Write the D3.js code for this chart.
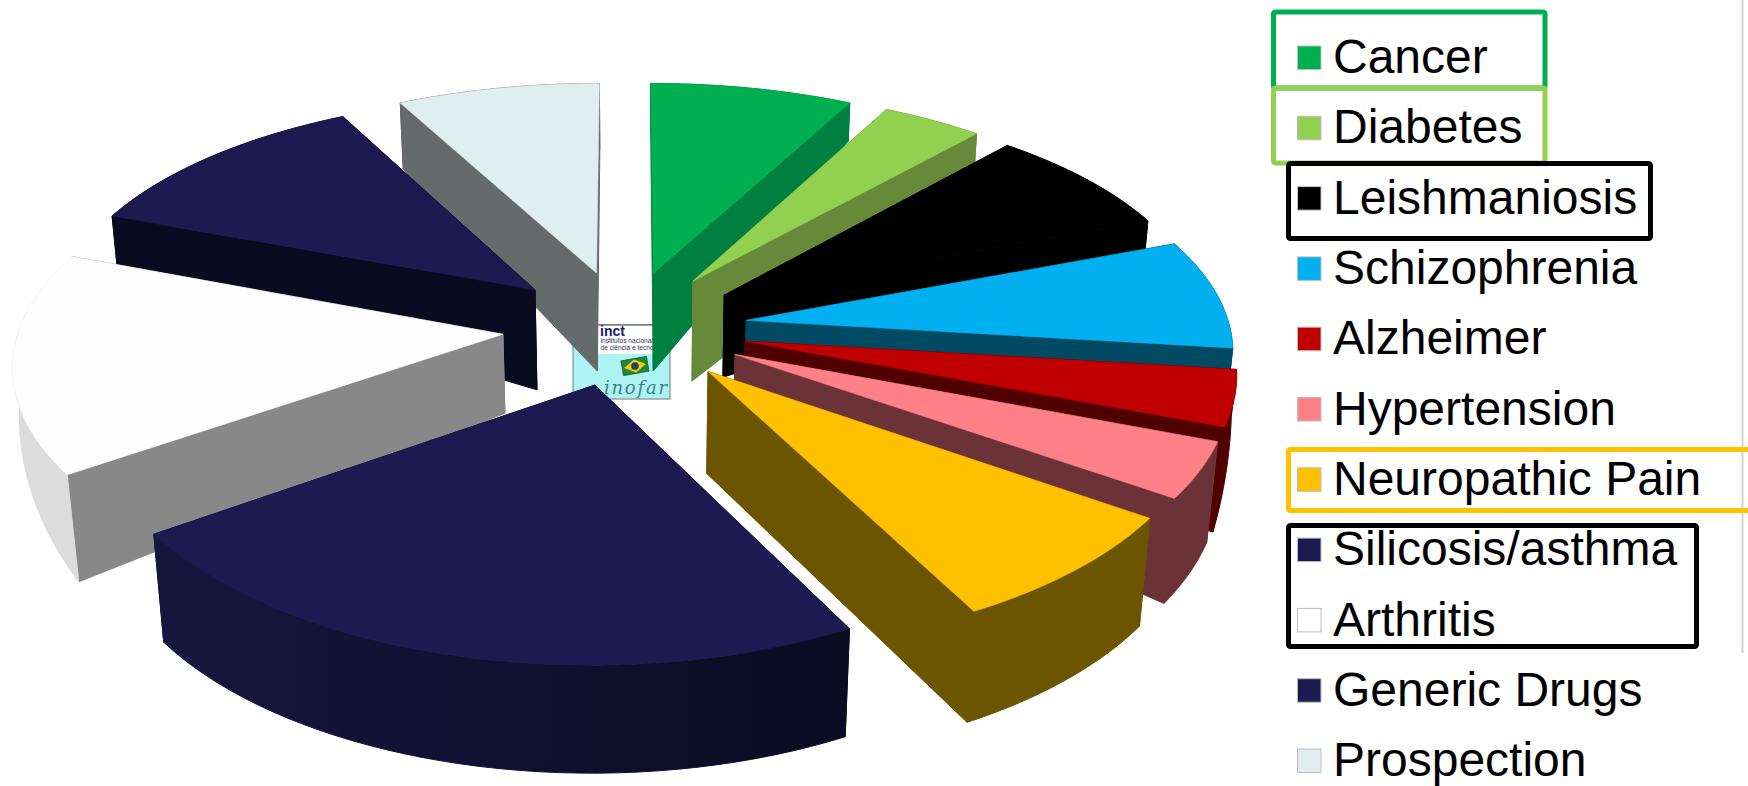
<!DOCTYPE html>
<html>
<head>
<meta charset="utf-8">
<script src="https://cdn.jsdelivr.net/npm/d3@7/dist/d3.min.js"></script>
<style>
  html, body { margin: 0; padding: 0; background: #fff; overflow: hidden; }
  svg { display: block; }
  text { font-family: "Liberation Sans", Arial, sans-serif; }
</style>
</head>
<body>
<svg id="chart" width="1748" height="786"></svg>
<script>
// Legend order of the research areas.
const categories = ["Cancer", "Diabetes", "Leishmaniosis", "Schizophrenia", "Alzheimer", "Hypertension",
                    "Neuropathic Pain", "Silicosis/asthma", "Arthritis", "Generic Drugs", "Prospection"];
// Pie slices run clockwise from twelve o'clock; asthma and generic drugs swap places in the wheel.
const sliceOrder = ["Cancer", "Diabetes", "Leishmaniosis", "Schizophrenia", "Alzheimer", "Hypertension",
                    "Neuropathic Pain", "Generic Drugs", "Arthritis", "Silicosis/asthma", "Prospection"];
const projects = [2, 1, 2, 2, 1, 1, 2, 6, 4, 3, 2];

// Face colours, in slice order.
const topColors  = ["#00b050", "#92d050", "#000000", "#00b0f0", "#c00000", "#ff8086", "#ffc000", "#1c1a50", "#fdfdfd", "#1c1a50", "#e1eef0"];
const cutColors  = ["#008040", "#668a3a", "#000000", "#004a63", "#500000", "#6b3338", "#6b5500", "#0d0d28", "#888888", "#0a0a20", "#636b6b"];
const rimColors  = ["#008040", "#668a3a", "#000000", "#004a63", "#500000", "#6b3338", "#6b5500", "url(#generic-rim)", "#dcdcdc", "#0a0a20", "#636b6b"];
const legendColors = { "Silicosis/asthma": "#1c1a50", "Generic Drugs": "#1c1a50", "Arthritis": "#ffffff" };

// Extrusion depth in pixels at the apex and at both ends of the outer arc, in slice order.
const depthApex  = [98, 100, 82, 60, 50, 60, 102, 105, 79, 100, 98];
const depthStart = [38, 29, 28, 30, 46, 101, 108, 108, 107, 48, 66];
const depthEnd   = [38, 29, 28, 30, 105, 105, 111, 108, 2, 48, 66];
// Back to front.
const paintOrder = [10, 0, 1, 2, 3, 4, 5, 6, 9, 8, 7];

// Perspective of the pie's top surface.
const camera = { cx: 625, cy: 330, a: 484, b: 228, kx: 0.115, ky: 0.13, nadirX: 640, nadirSpan: 5300 };
const project = (u, v) => [
  camera.cx + camera.a * u / (1 + camera.kx * v),
  camera.cy - camera.b * v / (1 + camera.ky * v)
];
const drop = ([x, y], d) => [x + (camera.nadirX - x) * d / camera.nadirSpan, y + d];
const explode = 0.2536, centreV = 0.012;

const svg = d3.select("#chart");
const polygon = d3.line();
const closed = pts => polygon(pts) + "Z";

const rimGradient = svg.append("defs").append("linearGradient").attr("id", "generic-rim")
  .attr("gradientUnits", "userSpaceOnUse").attr("x1", 150).attr("x2", 850).attr("y1", 0).attr("y2", 0);
rimGradient.append("stop").attr("offset", 0).attr("stop-color", "#17163f");
rimGradient.append("stop").attr("offset", 1).attr("stop-color", "#0b0b22");

// Institutional mark that sits behind the centre of the pie.
const logo = svg.append("g").attr("class", "logo");
logo.append("clipPath").attr("id", "logo-clip").append("rect")
  .attr("x", 573).attr("y", 325).attr("width", 97).attr("height", 74);
logo.append("rect").attr("x", 573).attr("y", 325).attr("width", 97).attr("height", 74)
  .attr("fill", "#aef3f3").attr("stroke", "#777").attr("stroke-width", 1);
logo.append("rect").attr("x", 597).attr("y", 325).attr("width", 60).attr("height", 29).attr("fill", "#fff");
logo.append("line").attr("x1", 597).attr("x2", 670).attr("y1", 325).attr("y2", 325).attr("stroke", "#444");
const logoText = logo.append("g").attr("clip-path", "url(#logo-clip)");
logoText.append("text").attr("x", 600).attr("y", 336).attr("font-size", 14).attr("font-weight", "bold")
  .attr("fill", "#1c1a6e").text("inct");
logoText.append("text").attr("x", 600.5).attr("y", 343).attr("font-size", 6.6).attr("fill", "#33336e").text("institutos nacionais");
logoText.append("text").attr("x", 600.5).attr("y", 349.5).attr("font-size", 6.6).attr("fill", "#33336e").text("de ciência e tecnologia");
logoText.append("text").attr("x", 604).attr("y", 394).attr("font-size", 18)
  .attr("style", "font-family:'DejaVu Serif',serif;font-style:italic").attr("fill", "#3f7f84").attr("textLength", 63).text("inofar");
const flag = logoText.append("g").attr("transform", "translate(635,366) rotate(-10)");
flag.append("rect").attr("x", -13).attr("y", -7.5).attr("width", 26).attr("height", 15).attr("fill", "#1d8a3a").attr("stroke", "#333").attr("stroke-width", 0.6);
flag.append("path").attr("d", "M-11,0L0,-6.5L11,0L0,6.5Z").attr("fill", "#f2d000");
flag.append("circle").attr("r", 3.8).attr("fill", "#1d3f7a");

// Slices: cut walls, then the curved rim, then the top surface of each.
const arcs = d3.pie().sort(null).startAngle(0).endAngle(2 * Math.PI)(projects);
paintOrder.forEach(i => {
  const slice = arcs[i];
  const mid = (slice.startAngle + slice.endAngle) / 2;
  const originU = explode * Math.sin(mid);
  const originV = centreV + explode * Math.cos(mid);
  const depth = d3.scaleLinear([slice.startAngle, slice.endAngle], [depthStart[i], depthEnd[i]]);
  const at = t => project(originU + Math.sin(t), originV + Math.cos(t));
  const angles = d3.range(41).map(d3.scaleLinear([0, 40], [slice.startAngle, slice.endAngle]));
  const apex = project(originU, originV);
  const rim = angles.map(at);
  const rimLow = angles.map(t => drop(at(t), depth(t)));
  const apexLow = drop(apex, depthApex[i]);

  const g = svg.append("g").attr("class", "slice").attr("data-name", sliceOrder[i]);
  const face = (pts, fill, seam) => g.append("path").attr("d", closed(pts))
    .attr("fill", fill).attr("stroke", fill).attr("stroke-width", seam).attr("stroke-linejoin", "round");
  face([apex, rim[0], rimLow[0], apexLow], cutColors[i], 1);
  face([apex, rim[40], rimLow[40], apexLow], cutColors[i], 1);
  face(rim.concat(rimLow.slice().reverse()), rimColors[i], 1);
  face([apex].concat(rim), topColors[i], 0.6);
});

// Page edge rule.
svg.append("line").attr("x1", 1742.5).attr("x2", 1742.5).attr("y1", 0).attr("y2", 653)
  .attr("stroke", "#d4d4d4").attr("stroke-width", 2);

// Legend.
const rowY = d3.scaleLinear([0, categories.length - 1], [57.5, 760.5]);
const colorOf = name => legendColors[name] || topColors[sliceOrder.indexOf(name)];
const legend = svg.append("g").attr("class", "legend");
const rows = legend.selectAll("g").data(categories).join("g")
  .attr("transform", (d, i) => `translate(0,${rowY(i)})`);
rows.append("rect").attr("x", 1297.5).attr("y", -11.5).attr("width", 23.5).attr("height", 23.5)
  .attr("fill", colorOf).attr("stroke", "#bdbdbd").attr("stroke-width", 1);
rows.append("text").attr("x", 1333).attr("y", 15.6).attr("font-size", 48).attr("fill", "#000").text(d => d);

// Outlines grouping research programmes in the legend.
const legendBoxes = [
  { x: 1273.5, y: 12, w: 271.5, h: 76, color: "#00b050" },
  { x: 1273.5, y: 88, w: 271.5, h: 75, color: "#92d050" },
  { x: 1288.5, y: 163.5, w: 362, h: 75, color: "#000000" },
  { x: 1288.5, y: 449.5, w: 480, h: 61, color: "#ffc000" },
  { x: 1288.5, y: 525.5, w: 408, h: 121, color: "#000000" }
];
legend.selectAll("rect.box").data(legendBoxes).join("rect").attr("class", "box")
  .attr("x", d => d.x).attr("y", d => d.y).attr("width", d => d.w).attr("height", d => d.h)
  .attr("rx", 2).attr("fill", "none").attr("stroke", d => d.color).attr("stroke-width", 5);
</script>
</body>
</html>
